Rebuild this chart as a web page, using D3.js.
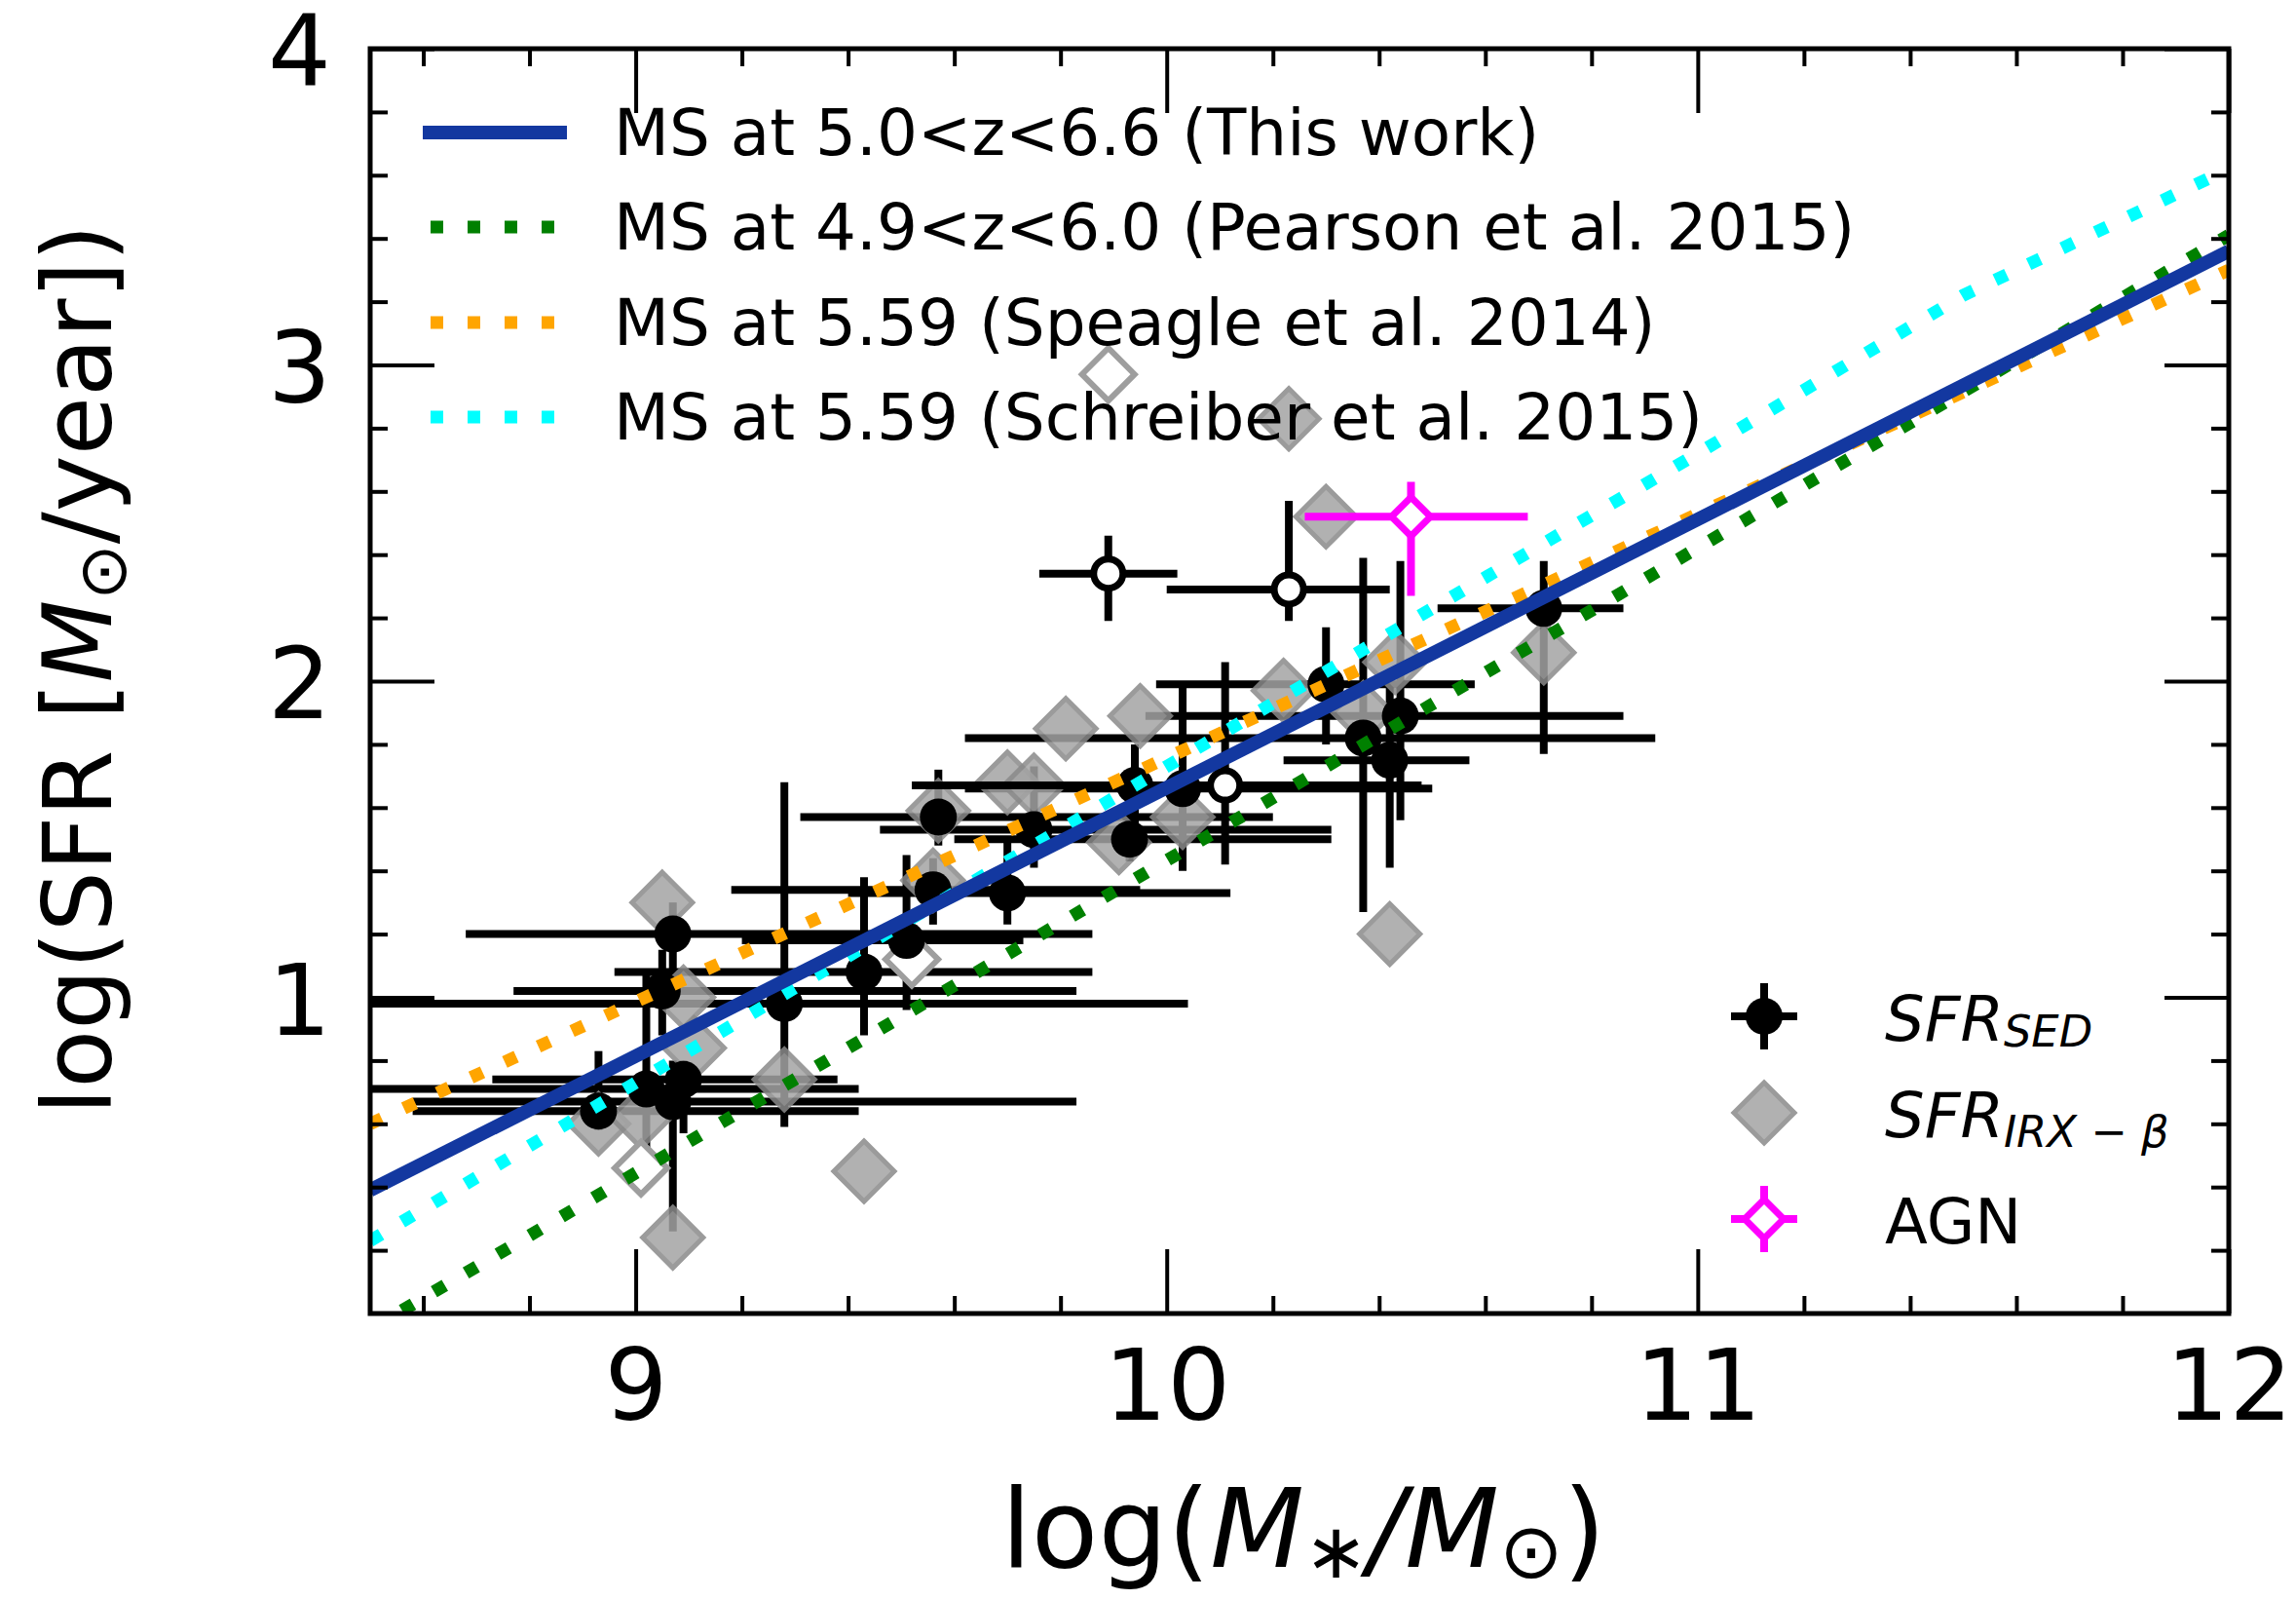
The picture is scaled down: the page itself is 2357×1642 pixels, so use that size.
<!DOCTYPE html>
<html>
<head>
<meta charset="utf-8">
<script src="https://cdn.jsdelivr.net/npm/d3@7"></script>
<style>
  body { margin: 0; background: #fff; }
  svg { display: block; }
  text { font-family: 'DejaVu Sans', sans-serif; }
</style>
</head>
<body>
<svg id="chart"></svg>
<script>
// main-sequence relations
const msLabels = [
  'MS at 5.0<z<6.6 (This work)',
  'MS at 4.9<z<6.0 (Pearson et al. 2015)',
  'MS at 5.59 (Speagle et al. 2014)',
  'MS at 5.59 (Schreiber et al. 2015)'
];
const msThisWorkX = [8.5, 12];
const msThisWorkY = [0.39, 3.36];
const msPearsonX = [8.5, 12];
const msPearsonY = [-0.05, 3.41];
const msSpeagleX = [8.5, 12];
const msSpeagleY = [0.60, 3.30];
const msSchreiberX = [8.5, 9, 9.5, 10, 10.5, 11, 11.5, 12];
const msSchreiberY = [0.23, 0.73, 1.23, 1.73, 2.23, 2.72, 3.22, 3.62];

// SFR_SED points: x, y, xLow, xHigh, yLow, yHigh
const sedFilled = [
  [8.93, 0.64, 8.58, 9.42, 0.58, 0.83],
  [9.02, 0.71, 8.47, 9.42, 0.47, 1.07],
  [9.07, 0.67, 8.58, 9.83, 0.26, 0.80],
  [9.09, 0.74, 8.73, 9.38, 0.57, 0.80],
  [9.05, 1.02, 8.77, 9.83, 0.88, 1.15],
  [9.07, 1.20, 8.68, 9.86, 1.05, 1.30],
  [9.28, 0.98, 8.45, 10.04, 0.59, 1.68],
  [9.43, 1.08, 8.96, 9.86, 0.88, 1.38],
  [9.51, 1.18, 9.20, 9.73, 0.96, 1.45],
  [9.56, 1.34, 9.18, 9.95, 1.23, 1.44],
  [9.57, 1.57, 9.31, 10.20, 1.48, 1.72],
  [9.70, 1.33, 9.40, 10.12, 1.23, 1.50],
  [9.75, 1.53, 9.46, 10.31, 1.41, 1.73],
  [9.93, 1.50, 9.60, 10.31, 1.43, 1.60],
  [9.94, 1.67, 9.75, 10.20, 1.50, 1.80],
  [10.03, 1.66, 9.62, 10.50, 1.40, 2.00],
  [10.30, 1.99, 9.98, 10.58, 1.80, 2.17],
  [10.44, 1.89, 9.96, 10.86, 1.56, 2.38],
  [10.37, 1.82, 9.62, 10.92, 1.27, 2.39],
  [10.42, 1.75, 10.22, 10.57, 1.41, 2.00],
  [10.71, 2.23, 10.51, 10.86, 1.77, 2.38]
];
const sedOpen = [
  [9.89, 2.34, 9.76, 10.02, 2.19, 2.46],
  [10.23, 2.29, 10.00, 10.42, 2.19, 2.57],
  [10.11, 1.67, 9.52, 10.48, 1.42, 2.06]
];

// SFR_IRX-beta points: x, y
const irxFilled = [
  [8.93, 0.60], [9.01, 0.62], [9.05, 1.30], [9.07, 0.24], [9.09, 1.00], [9.11, 0.84],
  [9.28, 0.74], [9.43, 0.45], [9.56, 1.37], [9.57, 1.59], [9.70, 1.68], [9.75, 1.67],
  [9.81, 1.85], [9.95, 1.89], [9.91, 1.49], [10.03, 1.57], [10.22, 1.97], [10.23, 2.83],
  [10.30, 2.52], [10.37, 1.90], [10.43, 2.06], [10.42, 1.20], [10.71, 2.09]
];
const irxOpen = [[9.01, 0.46], [9.52, 1.12], [9.89, 2.97]];

// AGN: x, y, xLow, xHigh, yLow, yHigh
const agn = [[10.46, 2.52, 10.26, 10.68, 2.27, 2.63]];

const xMajor = [9, 10, 11, 12];
const yMajor = [1, 2, 3, 4];
const xMinor = d3.range(43, 60).map((i) => i / 5).filter((v) => !Number.isInteger(v));
const yMinor = d3.range(1, 20).map((i) => i / 5).filter((v) => !Number.isInteger(v));

const width = 2357, height = 1642;
const plot = { left: 380, right: 2288, top: 50, bottom: 1348 };

const svg = d3.select('#chart').attr('width', width).attr('height', height);
svg.append('rect').attr('width', width).attr('height', height).attr('fill', 'white');

const x = d3.scaleLinear().domain([8.5, 12]).range([plot.left, plot.right]);
const y = d3.scaleLinear().domain([0, 4]).range([plot.bottom, plot.top]);

svg.append('clipPath').attr('id', 'plot-clip').append('rect')
  .attr('x', plot.left).attr('y', plot.top)
  .attr('width', plot.right - plot.left).attr('height', plot.bottom - plot.top);

const g = svg.append('g').attr('clip-path', 'url(#plot-clip)');

function diamond(r) {
  return `M0,${-r}L${r},0L0,${r}L${-r},0Z`;
}

function errorBars(sel, data, color) {
  sel.selectAll(null).data(data).join('line')
    .attr('x1', (d) => x(d[2])).attr('x2', (d) => x(d[3]))
    .attr('y1', (d) => y(d[1])).attr('y2', (d) => y(d[1]))
    .attr('stroke', color).attr('stroke-width', 8);
  sel.selectAll(null).data(data).join('line')
    .attr('x1', (d) => x(d[0])).attr('x2', (d) => x(d[0]))
    .attr('y1', (d) => y(d[4])).attr('y2', (d) => y(d[5]))
    .attr('stroke', color).attr('stroke-width', 8);
}

// SED error bars first, then the IRX diamonds, then the SED markers
const barG = g.append('g');
errorBars(barG, sedFilled, 'black');

g.append('g').selectAll('path').data(irxFilled).join('path')
  .attr('transform', (d) => `translate(${x(d[0])},${y(d[1])})`)
  .attr('d', diamond(31))
  .attr('fill', '#a4a4a4').attr('stroke', '#8a8a8a').attr('stroke-width', 5)
  .attr('opacity', 0.85);
g.append('g').selectAll('path').data(irxOpen).join('path')
  .attr('transform', (d) => `translate(${x(d[0])},${y(d[1])})`)
  .attr('d', diamond(27))
  .attr('fill', 'white').attr('stroke', '#9e9e9e').attr('stroke-width', 6);

const sedG = g.append('g');
sedG.selectAll(null).data(sedFilled).join('circle')
  .attr('cx', (d) => x(d[0])).attr('cy', (d) => y(d[1]))
  .attr('r', 19).attr('fill', 'black');
errorBars(sedG, sedOpen, 'black');
sedG.selectAll(null).data(sedOpen).join('circle')
  .attr('cx', (d) => x(d[0])).attr('cy', (d) => y(d[1]))
  .attr('r', 15).attr('fill', 'white').attr('stroke', 'black').attr('stroke-width', 7);

// AGN
const agnG = g.append('g');
errorBars(agnG, agn, '#ff00ff');
agnG.selectAll('path').data(agn).join('path')
  .attr('transform', (d) => `translate(${x(d[0])},${y(d[1])})`)
  .attr('d', diamond(20))
  .attr('fill', 'white').attr('stroke', '#ff00ff').attr('stroke-width', 7);

// MS lines
const msSeries = [
  { xs: msThisWorkX, ys: msThisWorkY },
  { xs: msPearsonX, ys: msPearsonY },
  { xs: msSpeagleX, ys: msSpeagleY },
  { xs: msSchreiberX, ys: msSchreiberY }
];
const msStyles = [
  { color: '#1338a0', width: 14, dash: null },
  { color: '#008000', width: 13, dash: '13,25' },
  { color: '#ffa500', width: 13, dash: '13,25' },
  { color: '#00ffff', width: 13, dash: '13,25' }
];
const line = d3.line().x((d) => x(d[0])).y((d) => y(d[1]));
[1, 2, 3, 0].forEach((i) => {
  g.append('path')
    .attr('d', line(d3.zip(msSeries[i].xs, msSeries[i].ys)))
    .attr('fill', 'none')
    .attr('stroke', msStyles[i].color)
    .attr('stroke-width', msStyles[i].width)
    .attr('stroke-dasharray', msStyles[i].dash);
});

// axes: ticks point inward on all four sides
function styleAxis(sel) {
  sel.select('.domain').remove();
  sel.selectAll('line').attr('stroke', 'black').attr('stroke-width', 4);
  sel.attr('font-size', 102).attr('font-family', 'DejaVu Sans').attr('color', 'black');
}
svg.append('g').attr('transform', `translate(0,${plot.bottom})`)
  .call(d3.axisBottom(x).tickValues(xMajor).tickSize(-66).tickPadding(37).tickFormat(d3.format('d')))
  .call(styleAxis);
svg.append('g').attr('transform', `translate(0,${plot.bottom})`)
  .call(d3.axisBottom(x).tickValues(xMinor).tickSize(-18).tickFormat(''))
  .call(styleAxis);
svg.append('g').attr('transform', `translate(0,${plot.top})`)
  .call(d3.axisTop(x).tickValues(xMajor).tickSize(-66).tickFormat(''))
  .call(styleAxis);
svg.append('g').attr('transform', `translate(0,${plot.top})`)
  .call(d3.axisTop(x).tickValues(xMinor).tickSize(-18).tickFormat(''))
  .call(styleAxis);
svg.append('g').attr('transform', `translate(${plot.left},0)`)
  .call(d3.axisLeft(y).tickValues(yMajor).tickSize(-66).tickPadding(40).tickFormat(d3.format('d')))
  .call(styleAxis)
  .call((a) => a.selectAll('text').attr('dy', '0.37em'));
svg.append('g').attr('transform', `translate(${plot.left},0)`)
  .call(d3.axisLeft(y).tickValues(yMinor).tickSize(-18).tickFormat(''))
  .call(styleAxis);
svg.append('g').attr('transform', `translate(${plot.right},0)`)
  .call(d3.axisRight(y).tickValues(yMajor).tickSize(-66).tickFormat(''))
  .call(styleAxis);
svg.append('g').attr('transform', `translate(${plot.right},0)`)
  .call(d3.axisRight(y).tickValues(yMinor).tickSize(-18).tickFormat(''))
  .call(styleAxis);

svg.append('rect')
  .attr('x', plot.left).attr('y', plot.top)
  .attr('width', plot.right - plot.left).attr('height', plot.bottom - plot.top)
  .attr('fill', 'none').attr('stroke', 'black').attr('stroke-width', 5);

// mathtext-like labels built from tspans
function mathText(textSel, parts, size) {
  let shift = 0;
  parts.forEach((p) => {
    const target = (p.sub || 0) * size;
    textSel.append('tspan')
      .attr('dy', target - shift)
      .style('font-size', (p.scale || 1) * size + 'px')
      .style('font-style', p.italic ? 'italic' : 'normal')
      .text(p.t);
    shift = target;
  });
}

const xLabel = svg.append('text').attr('x', (plot.left + plot.right) / 2 + 4).attr('y', 1608)
  .attr('text-anchor', 'middle');
mathText(xLabel, [
  { t: 'log(' }, { t: 'M', italic: true }, { t: '\u2217', scale: 0.7, sub: 0.1 },
  { t: '/', italic: true }, { t: 'M', italic: true }, { t: '\u2299', scale: 0.7, sub: 0.1 },
  { t: ')' }
], 112);

const yLabel = svg.append('text')
  .attr('transform', `translate(114,${(plot.top + plot.bottom) / 2 - 12}) rotate(-90)`)
  .attr('text-anchor', 'middle');
mathText(yLabel, [
  { t: 'log(SFR [' }, { t: 'M', italic: true }, { t: '\u2299', scale: 0.7, sub: 0.15 },
  { t: '/year])' }
], 98);

// legend for MS relations
const legRowY = [136, 233, 331, 428];
const legG = svg.append('g');
msLabels.forEach((label, i) => {
  const st = msStyles[i];
  legG.append('line')
    .attr('x1', st.dash ? 442 : 434).attr('x2', 582)
    .attr('y1', legRowY[i]).attr('y2', legRowY[i])
    .attr('stroke', st.color).attr('stroke-width', st.width)
    .attr('stroke-dasharray', st.dash);
  legG.append('text')
    .attr('x', 630).attr('y', legRowY[i] + 23)
    .style('font-size', '66px')
    .text(label);
});

// legend for point types
const mx = 1811;
const pRowY = [1043, 1142, 1251];
const pLeg = svg.append('g');
pLeg.append('line').attr('x1', mx - 34).attr('x2', mx + 34).attr('y1', pRowY[0]).attr('y2', pRowY[0])
  .attr('stroke', 'black').attr('stroke-width', 8);
pLeg.append('line').attr('x1', mx).attr('x2', mx).attr('y1', pRowY[0] - 34).attr('y2', pRowY[0] + 34)
  .attr('stroke', 'black').attr('stroke-width', 8);
pLeg.append('circle').attr('cx', mx).attr('cy', pRowY[0]).attr('r', 19).attr('fill', 'black');
pLeg.append('path').attr('transform', `translate(${mx},${pRowY[1]})`).attr('d', diamond(31))
  .attr('fill', '#a4a4a4').attr('stroke', '#8a8a8a').attr('stroke-width', 5).attr('opacity', 0.85);
pLeg.append('line').attr('x1', mx - 34).attr('x2', mx + 34).attr('y1', pRowY[2]).attr('y2', pRowY[2])
  .attr('stroke', '#ff00ff').attr('stroke-width', 8);
pLeg.append('line').attr('x1', mx).attr('x2', mx).attr('y1', pRowY[2] - 34).attr('y2', pRowY[2] + 34)
  .attr('stroke', '#ff00ff').attr('stroke-width', 8);
pLeg.append('path').attr('transform', `translate(${mx},${pRowY[2]})`).attr('d', diamond(20))
  .attr('fill', 'white').attr('stroke', '#ff00ff').attr('stroke-width', 7);

const t1 = pLeg.append('text').attr('x', 1935).attr('y', pRowY[0] + 25);
mathText(t1, [{ t: 'SFR', italic: true }, { t: 'SED', italic: true, scale: 0.7, sub: 0.1 }], 64);
const t2 = pLeg.append('text').attr('x', 1935).attr('y', pRowY[1] + 25);
mathText(t2, [{ t: 'SFR', italic: true }, { t: 'IRX \u2212 \u03b2', italic: true, scale: 0.7, sub: 0.15 }], 64);
pLeg.append('text').attr('x', 1935).attr('y', pRowY[2] + 25).style('font-size', '64px').text('AGN');
</script>
</body>
</html>
